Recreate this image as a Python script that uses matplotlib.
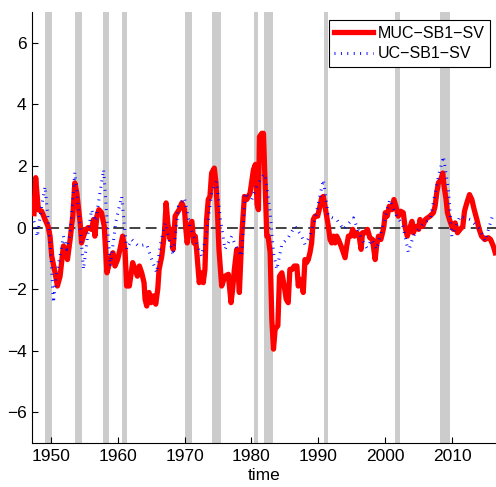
import matplotlib
matplotlib.use("Agg")
import matplotlib.pyplot as plt

plt.rcParams['font.family'] = ['Liberation Sans Narrow', 'Liberation Sans', 'DejaVu Sans']

# recession bands (start, end)
rec_start = [1949.15, 1953.6, 1957.8, 1960.7, 1970.1, 1974.1, 1980.4, 1981.9, 1990.85, 2001.5, 2008.2]
rec_end = [1950.15, 1954.7, 1958.7, 1961.4, 1971.1, 1975.4, 1981.0, 1983.2, 1991.45, 2002.25, 2009.7]

# MUC-SB1-SV (red)
muc_years = [1947.5, 1947.75, 1948.15, 1948.65, 1949.15, 1949.6, 1949.9, 1950.15, 1950.65, 1951.0,
             1951.4, 1951.9, 1952.3, 1952.5, 1952.9, 1953.3, 1953.6, 1953.9, 1954.4, 1954.6,
             1954.9, 1955.3, 1955.6, 1956.1, 1956.4, 1956.6, 1956.9, 1957.2, 1957.6, 1958.0,
             1958.4, 1958.9, 1959.3, 1959.6, 1960.0, 1960.35, 1960.75, 1961.1, 1961.35, 1961.75,
             1962.25, 1962.6, 1962.95, 1963.25, 1963.6, 1963.95, 1964.1, 1964.35, 1964.7, 1965.0,
             1965.35, 1965.7, 1966.0, 1966.2, 1966.6, 1967.0, 1967.25, 1967.5, 1967.85, 1968.1,
             1968.3, 1968.6, 1968.9, 1969.2, 1969.6, 1970.0, 1970.2, 1970.4, 1970.7, 1971.1,
             1971.4, 1971.6, 1971.8, 1972.2, 1972.5, 1972.8, 1973.05, 1973.3, 1973.55, 1973.8,
             1974.05, 1974.45, 1974.7, 1974.95, 1975.15, 1975.55, 1976.05, 1976.55, 1976.95, 1977.2,
             1977.45, 1977.8, 1978.2, 1978.55, 1978.95, 1979.3, 1979.8, 1980.3, 1980.6, 1980.85,
             1981.05, 1981.2, 1981.55, 1981.8, 1982.05, 1982.3, 1982.5, 1982.8, 1983.05, 1983.3,
             1983.55, 1983.95, 1984.2, 1984.55, 1984.9, 1985.2, 1985.5, 1985.75, 1986.1, 1986.4,
             1986.8, 1987.0, 1987.25, 1987.5, 1987.75, 1988.0, 1988.25, 1988.5, 1988.75, 1989.0,
             1989.25, 1989.5, 1989.9, 1990.25, 1990.5, 1990.75, 1991.0, 1991.25, 1991.5, 1991.75,
             1992.0, 1992.25, 1992.5, 1992.75, 1993.0, 1993.4, 1993.75, 1994.0, 1994.25, 1994.5,
             1994.85, 1995.15, 1995.4, 1995.75, 1996.1, 1996.4, 1996.6, 1997.0, 1997.35, 1997.7,
             1998.1, 1998.5, 1998.7, 1999.0, 1999.35, 1999.6, 1999.8, 2000.0, 2000.3, 2000.6,
             2001.0, 2001.3, 2001.6, 2001.95, 2002.3, 2002.7, 2002.95, 2003.3, 2003.6, 2004.0,
             2004.2, 2004.6, 2005.0, 2005.2, 2005.6, 2006.0, 2006.3, 2006.7, 2007.2, 2007.45,
             2007.7, 2007.95, 2008.3, 2008.6, 2008.8, 2009.1, 2009.3, 2009.6, 2009.95, 2010.2,
             2010.45, 2010.8, 2011.2, 2011.6, 2011.85, 2012.2, 2012.6, 2012.95, 2013.3, 2013.7,
             2014.05, 2014.4, 2014.9, 2015.4, 2015.75, 2016.15, 2016.45]
muc_vals = [0.45, 1.62, 0.58, 0.53, 0.26, 0.04, -0.28, -0.93, -1.47, -1.9,
            -1.58, -0.6, -0.71, -1.04, -0.39, 0.37, 1.45, 1.12, 0.15, -0.5,
            -0.28, -0.06, 0.0, -0.06, 0.26, -0.28, 0.37, 0.58, 0.48, 0.04,
            -1.47, -1.04, -0.82, -1.25, -1.04, -0.71, -0.28, -0.71, -1.9, -1.9,
            -1.14, -1.36, -1.58, -1.25, -1.47, -1.79, -2.33, -2.55, -2.11, -2.44,
            -2.22, -2.49, -2.0, -1.36, -0.93, -0.17, 0.8, 0.15, -0.39, -0.06,
            -0.71, 0.37, 0.48, 0.58, 0.8, 0.58, -0.06, -0.5, 0.04, 0.2,
            -0.5, -0.28, -0.71, -1.79, -1.47, -1.79, -1.36, 0.26, 0.91, 1.01,
            1.77, 1.93, 1.45, 0.37, -0.71, -1.9, -1.58, -1.52, -2.44, -2.0,
            -1.36, -0.71, -2.11, -0.28, 1.01, 0.91, 1.12, 1.88, 2.05, 0.75,
            0.58, 2.95, 3.06, 3.06, 1.34, -0.28, -0.28, -0.82, -2.98, -3.95,
            -3.3, -3.19, -1.58, -1.47, -1.9, -2.33, -2.44, -1.36, -1.36, -1.25,
            -1.25, -1.9, -1.68, -1.79, -2.11, -1.04, -1.14, -1.04, -0.82, -0.5,
            0.26, 0.37, 0.37, 0.69, 0.96, 1.01, 0.69, 0.37, 0.04, -0.39,
            -0.5, -0.28, -0.5, -0.28, -0.39, -0.6, -0.82, -0.98, -0.6, -0.28,
            -0.28, -0.06, -0.28, -0.17, -0.28, -0.71, -0.17, -0.17, -0.06, -0.33,
            -0.39, -1.04, -0.6, -0.28, -0.39, -0.17, 0.04, 0.48, 0.37, 0.69,
            0.58, 0.91, 0.69, 0.37, 0.53, 0.48, 0.04, -0.28, -0.06, 0.2,
            -0.17, 0.04, -0.06, 0.26, 0.04, 0.26, 0.31, 0.37, 0.48, 0.69,
            1.12, 1.45, 1.55, 1.77, 1.34, 0.91, 0.48, 0.26, 0.04, -0.06,
            0.15, -0.17, -0.06, 0.04, 0.53, 0.8, 1.07, 0.91, 0.58, 0.26,
            -0.06, -0.28, -0.39, -0.33, -0.39, -0.6, -0.82]

# UC-SB1-SV (blue)
uc_years = [1947.5, 1948.0, 1948.5, 1949.15, 1949.6, 1950.0, 1950.4, 1950.8, 1951.4, 1951.9,
            1952.4, 1952.9, 1953.6, 1954.2, 1954.9, 1955.5, 1956.1, 1956.7, 1957.9, 1958.9,
            1959.75, 1960.6, 1961.35, 1962.1, 1963.1, 1964.35, 1965.1, 1965.85, 1966.35, 1967.1,
            1967.85, 1968.3, 1969.1, 1970.0, 1970.8, 1971.55, 1972.55, 1973.3, 1974.05, 1974.8,
            1975.3, 1976.05, 1977.05, 1977.65, 1978.55, 1979.05, 1980.05, 1980.8, 1981.8, 1982.05,
            1982.8, 1983.3, 1983.8, 1984.55, 1985.5, 1986.5, 1987.5, 1988.0, 1988.75, 1989.5,
            1990.75, 1991.5, 1992.75, 1993.75, 1995.25, 1996.5, 1997.25, 1998.0, 1998.7, 2000.7,
            2001.7, 2002.6, 2003.45, 2004.2, 2005.7, 2006.7, 2007.95, 2008.7, 2009.45, 2009.95,
            2011.2, 2012.7, 2014.15, 2014.9, 2016.05]
uc_vals = [0.2, -0.3, 0.5, 1.33, 0.3, -0.8, -2.44, -1.6, -0.9, -0.28,
           -0.71, -0.2, 1.79, 0.5, -1.36, -0.3, 0.58, 0.2, 1.88, -1.25,
           0.2, 1.01, -0.71, -0.39, -0.6, -0.55, -1.04, -1.47, -0.6, 0.15,
           -0.5, -0.9, 0.69, 0.96, 0.04, -0.39, -0.93, -0.17, 1.12, 1.5,
           0.37, -0.71, -0.28, -0.6, -0.93, 1.12, 0.91, 1.34, 1.72, 1.72,
           0.48, -0.82, -1.36, -0.55, -0.33, 0.04, -0.28, -0.55, -0.28, 0.26,
           1.55, 0.37, 0.26, -0.06, 0.31, -0.39, -0.66, -0.39, -0.71, 0.91,
           0.37, 0.1, -0.8, -0.28, 0.15, 0.26, 1.66, 2.31, 1.23, -0.28,
           0.37, 0.26, -0.06, -0.44, 0.39]

fig = plt.figure(figsize=(4.96, 4.87), dpi=100)
ax = fig.add_axes([0.0645, 0.0903, 0.9355, 0.885])

# gray recession bars
for s, e in zip(rec_start, rec_end):
    ax.axvspan(s, e, color='#cccccc', lw=0, zorder=0)

ax.axhline(0, color='#333333', lw=1.3, ls=(0, (6, 3)), zorder=1)

ax.plot(muc_years, muc_vals, color='#ff0000', lw=3.8, zorder=3, label='MUC\u2212SB1\u2212SV')
ax.plot(uc_years, uc_vals, color='#0000ff', lw=2.2, ls=(0, (0.3, 1.8)),
        dash_capstyle='butt', zorder=4, label='UC\u2212SB1\u2212SV')

ax.set_xlim(1947.2, 2016.56)
ax.set_ylim(-7, 7)
ax.set_xticks([1950, 1960, 1970, 1980, 1990, 2000, 2010])
ax.set_yticks([-6, -4, -2, 0, 2, 4, 6])
ax.tick_params(direction='in', length=4, labelsize=12.5, top=False, right=False, pad=4)
ax.spines['top'].set_visible(False)
ax.spines['right'].set_visible(False)
ax.set_xlabel('time', fontsize=12.5, labelpad=3)

leg = ax.legend(loc='upper right', bbox_to_anchor=(0.987, 0.981), borderaxespad=0,
                fontsize=11.5, fancybox=False, framealpha=1, edgecolor='black',
                handlelength=2.4, borderpad=0.35, labelspacing=0.35, handletextpad=0.3)
leg.get_frame().set_linewidth(0.8)

fig.savefig('out.png', dpi=100)
